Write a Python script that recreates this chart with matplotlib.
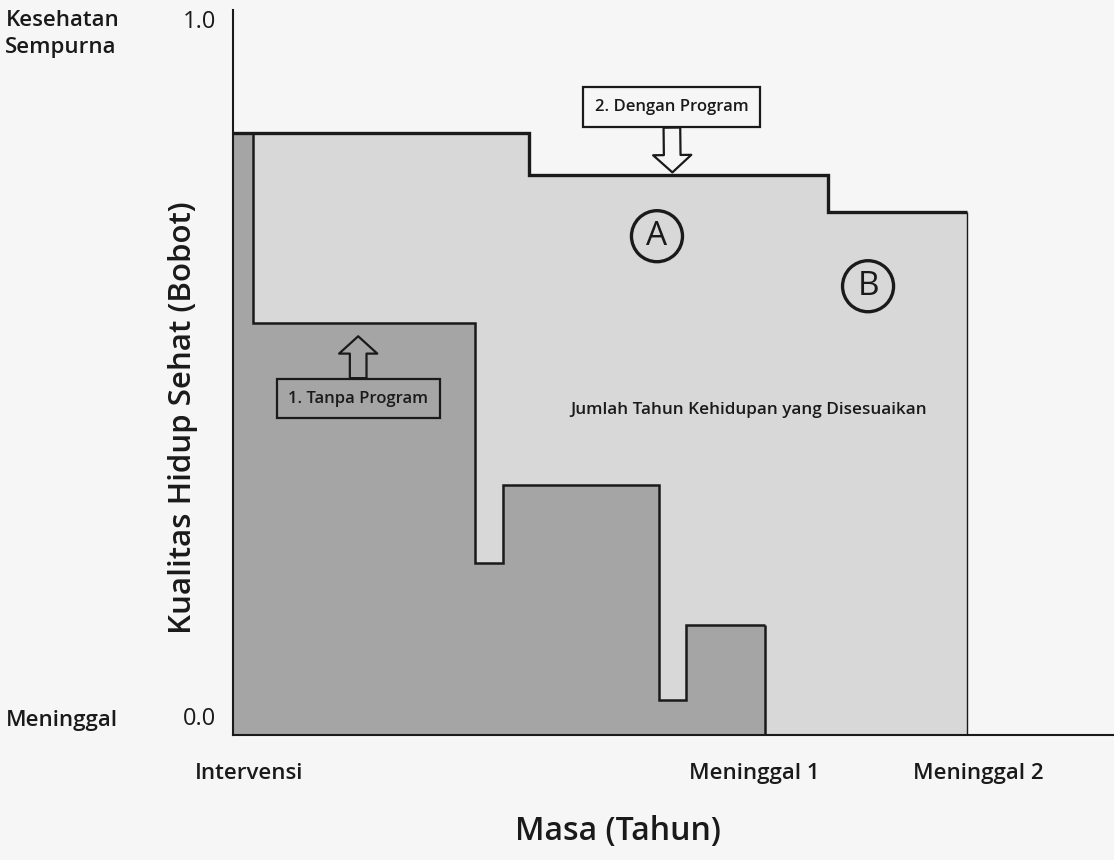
import matplotlib.pyplot as plt

plt.rcParams['font.family'] = ['Open Sans', 'DejaVu Sans']

# batas waktu (tahun, skala relatif) dan bobot kualitas hidup tiap periode
edges_dengan = [0, 8.05, 16.2, 20.0]
bobot_dengan = [0.83, 0.772, 0.721]

edges_tanpa = [0, 0.55, 6.6, 7.35, 11.6, 12.35, 14.5]
bobot_tanpa = [0.83, 0.568, 0.237, 0.345, 0.048, 0.152]

ytick_pos = [0.0, 1.0]
ytick_lbl = ["0.0", "1.0"]
xtick_pos = [0.0, edges_tanpa[-1], edges_dengan[-1]]
xtick_lbl = ["Intervensi", "Meninggal 1", "Meninggal 2"]
xtick_geser = [0.45, -0.3, 0.3]

BG = "#f6f6f6"
LIGHT = "#d8d8d8"
DARK = "#a5a5a5"
INK = "#1a1a1a"

fig = plt.figure(figsize=(11.14, 8.6), dpi=100, facecolor=BG)
ax = fig.add_axes([233 / 1114, 125 / 860, 881 / 1114, 725 / 860])
ax.set_facecolor(BG)
ax.set_xlim(0, 24)
ax.set_ylim(0, 1.0)

# area dengan program (A + B) dan tanpa program
ax.stairs(bobot_dengan, edges_dengan, fill=True, color=LIGHT, zorder=1)
ax.stairs(bobot_tanpa, edges_tanpa, fill=True, color=DARK, zorder=2)
ax.stairs(bobot_tanpa, edges_tanpa, baseline=None, color=INK, lw=1.8, zorder=3)
ax.vlines(edges_tanpa[-1], 0, bobot_tanpa[-1], color=INK, lw=1.8, zorder=3)
ax.stairs(bobot_dengan, edges_dengan, baseline=None, color=INK, lw=2.4, zorder=4)
ax.vlines(edges_dengan[-1], 0, bobot_dengan[-1], color=INK, lw=1.0, zorder=4)

for s in ["top", "right"]:
    ax.spines[s].set_visible(False)
for s in ["left", "bottom"]:
    ax.spines[s].set_color(INK)
    ax.spines[s].set_linewidth(1.5)

ax.set_xticks([])
ax.set_yticks([])

# label sumbu y
for v, t in zip(ytick_pos, ytick_lbl):
    ax.text(-0.45, v + (0.006 if v == 0 else 0), t, ha="right",
            va="bottom" if v == 0 else "top", fontsize=17, color=INK)
ax.text(-6.2, 1.0, "Kesehatan\nSempurna", ha="left", va="top",
        fontsize=16, weight="semibold", color=INK, linespacing=1.4)
ax.text(-6.2, 0.006, "Meninggal", ha="left", va="bottom",
        fontsize=16, weight="semibold", color=INK)

# label sumbu x
for v, t, g in zip(xtick_pos, xtick_lbl, xtick_geser):
    ax.text(v + g, -0.038, t, ha="center", va="top", fontsize=16,
            weight="semibold", color=INK)

ax.set_ylabel("Kualitas Hidup Sehat (Bobot)", fontsize=22.5,
              weight="semibold", color=INK)
ax.yaxis.set_label_coords(-0.04, 0.438)
fig.text(618 / 1114, 1 - 832 / 860, "Masa (Tahun)", ha="center", va="center",
         fontsize=23, weight="semibold", color=INK)

# kotak keterangan + panah berongga
arrow = "simple,head_length=1.25,head_width=2.75,tail_width=1.2"
ax.annotate("2. Dengan Program", xy=(11.97, 0.776), xytext=(11.95, 0.866),
            ha="center", va="center", fontsize=12, weight="semibold",
            color=INK, zorder=6,
            bbox=dict(boxstyle="square,pad=0.7", fc=BG, ec=INK, lw=1.6),
            arrowprops=dict(arrowstyle=arrow, fc=BG, ec=INK, lw=1.6,
                            mutation_scale=10, shrinkA=0, shrinkB=0))
ax.annotate("1. Tanpa Program", xy=(3.41, 0.55), xytext=(3.41, 0.464),
            ha="center", va="center", fontsize=12, weight="semibold",
            color=INK, zorder=6,
            bbox=dict(boxstyle="square,pad=0.7", fc=DARK, ec=INK, lw=1.6),
            arrowprops=dict(arrowstyle=arrow, fc=DARK, ec=INK, lw=1.6,
                            mutation_scale=10, shrinkA=0, shrinkB=0))

# label area A dan B
for lx, ly, lt in [(11.55, 0.688, "A"), (17.3, 0.619, "B")]:
    ax.scatter([lx], [ly], s=1350, facecolors="none", edgecolors=INK,
               linewidths=2.4, zorder=5)
    ax.text(lx, ly, lt, ha="center", va="center", fontsize=24, color=INK, zorder=6)

ax.text(9.2, 0.448, "Jumlah Tahun Kehidupan yang Disesuaikan", ha="left",
        va="center", fontsize=12.3, weight="semibold", color=INK, zorder=5)

fig.savefig("out.png", dpi=100, facecolor=BG)
